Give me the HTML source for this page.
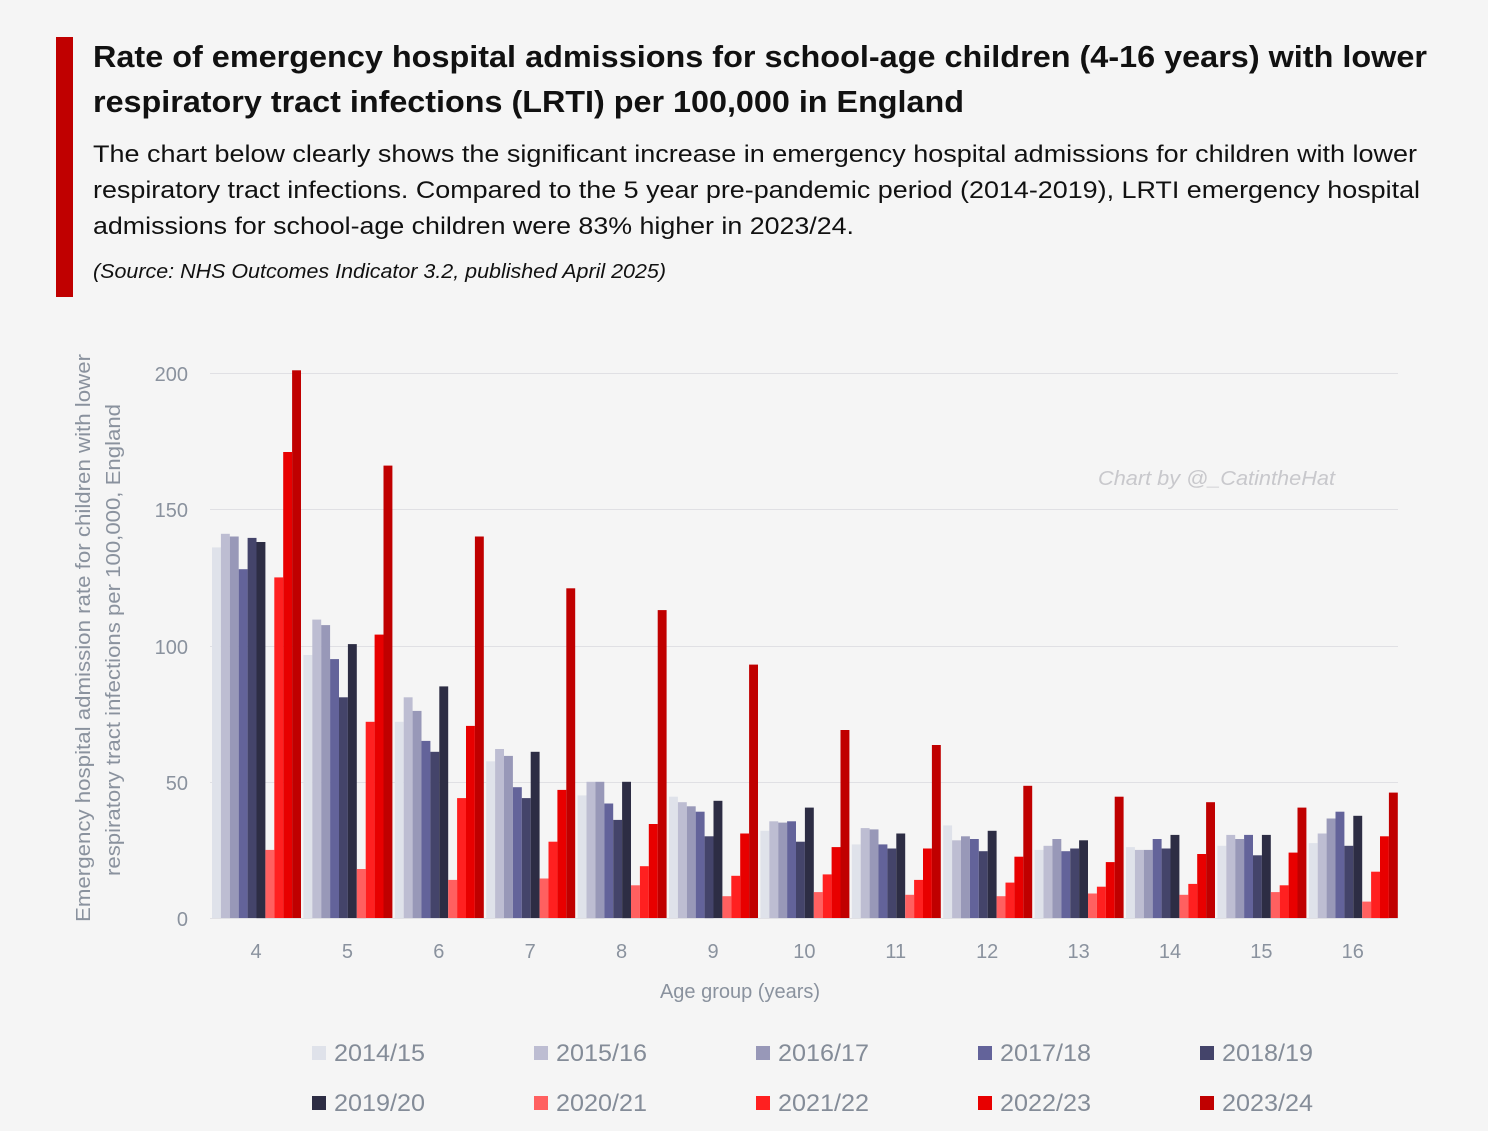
<!DOCTYPE html>
<html><head><meta charset="utf-8"><style>
html,body{margin:0;padding:0;background:#f5f5f5}
svg{display:block}
</style></head><body>
<svg id="s" width="1488" height="1131" xmlns="http://www.w3.org/2000/svg" font-family="Liberation Sans, sans-serif">
<rect width="1488" height="1131" fill="#f5f5f5"/>
<rect x="56" y="37" width="17" height="260" fill="#c00000"/>
<g font-weight="bold" font-size="31" fill="#111">
<text x="93" y="67" textLength="1334" lengthAdjust="spacingAndGlyphs">Rate of emergency hospital admissions for school-age children (4-16 years) with lower</text>
<text x="93" y="112" textLength="871" lengthAdjust="spacingAndGlyphs">respiratory tract infections (LRTI) per 100,000 in England</text>
</g>
<g font-size="24" fill="#111">
<text x="93" y="162" textLength="1324" lengthAdjust="spacingAndGlyphs">The chart below clearly shows the significant increase in emergency hospital admissions for children with lower</text>
<text x="93" y="198" textLength="1327" lengthAdjust="spacingAndGlyphs">respiratory tract infections. Compared to the 5 year pre-pandemic period (2014-2019), LRTI emergency hospital</text>
<text x="93" y="234" textLength="761" lengthAdjust="spacingAndGlyphs">admissions for school-age children were 83% higher in 2023/24.</text>
</g>
<text x="93" y="278" font-size="20" font-style="italic" fill="#111" textLength="573" lengthAdjust="spacingAndGlyphs">(Source: NHS Outcomes Indicator 3.2, published April 2025)</text>
<g stroke="#e0e0e4" stroke-width="1">
<line x1="210" y1="373.5" x2="1398" y2="373.5"/>
<line x1="210" y1="509.5" x2="1398" y2="509.5"/>
<line x1="210" y1="646.5" x2="1398" y2="646.5"/>
<line x1="210" y1="782.5" x2="1398" y2="782.5"/>
<line x1="210" y1="918.5" x2="1398" y2="918.5"/>
</g>
<g font-size="20" fill="#8a929e" text-anchor="end">
<text x="188" y="381">200</text><text x="188" y="517">150</text><text x="188" y="654">100</text><text x="188" y="790">50</text><text x="188" y="926">0</text>
</g>
<g font-size="20" fill="#8a929e" transform="rotate(-90)" text-anchor="middle">
<text x="-638" y="90" textLength="568" lengthAdjust="spacingAndGlyphs">Emergency hospital admission rate for children with lower</text>
<text x="-640" y="120" textLength="472" lengthAdjust="spacingAndGlyphs">respiratory tract infections per 100,000, England</text>
</g>
<text x="740" y="998" font-size="20" fill="#8a929e" text-anchor="middle">Age group (years)</text>
<text x="1098" y="485" font-size="20" font-style="italic" fill="#c8c8cc" textLength="237" lengthAdjust="spacingAndGlyphs">Chart by @_CatintheHat</text>
<g id="bars"></g>
<g id="xl" font-size="20" fill="#8a929e" text-anchor="middle"></g>
<g id="leg" font-size="24" fill="#848c98"></g>
</svg>
<script>
var C=["#dfe2ea","#bdbdd2","#9898b8","#63639a","#44446a","#2d2d44","#ff6060","#ff2020","#e80000","#c00000"];
var D=[[136,141,140,128,139.5,138,25,125,171,201],
[96.5,109.5,107.5,95,81,100.5,18,72,104,166],
[72,81,76,65,61,85,14,44,70.5,140],
[57.5,62,59.5,48,44,61,14.5,28,47,121],
[45,50,50,42,36,50,12,19,34.5,113],
[44.5,42.5,41,39,30,43,8,15.5,31,93],
[32,35.5,35,35.5,28,40.5,9.5,16,26,69],
[27,33,32.5,27,25.5,31,8.5,14,25.5,63.5],
[34,28.5,30,29,24.5,32,8,13,22.5,48.5],
[25,26.5,29,24.5,25.5,28.5,9,11.5,20.5,44.5],
[26,25,25,29,25.5,30.5,8.5,12.5,23.5,42.5],
[26.5,30.5,29,30.5,23,30.5,9.5,12,24,40.5],
[27.5,31,36.5,39,26.5,37.5,6,17,30,46]];
var ns="http://www.w3.org/2000/svg",b=document.getElementById("bars"),xl=document.getElementById("xl"),lg=document.getElementById("leg");
function el(t,a,p){var e=document.createElementNS(ns,t);for(var k in a)e.setAttribute(k,a[k]);p.appendChild(e);return e;}
for(var g=0;g<13;g++){var x0=212+g*91.4;
for(var i=0;i<10;i++){var v=D[g][i],h=v*2.725;el("rect",{x:(x0+i*8.9).toFixed(1),y:(918-h).toFixed(1),width:"8.9",height:h.toFixed(1),fill:C[i]},b);}
var t=el("text",{x:(256+g*91.4).toFixed(1),y:"958"},xl);t.textContent=g+4;}
var L=["2014/15","2015/16","2016/17","2017/18","2018/19","2019/20","2020/21","2021/22","2022/23","2023/24"];
for(var i=0;i<10;i++){var c=i%5,r=Math.floor(i/5),x=312+c*222,y=1046+r*50;
el("rect",{x:x,y:y,width:14,height:14,fill:C[i]},lg);var t=el("text",{x:x+22,y:y+15,textLength:91,lengthAdjust:"spacingAndGlyphs"},lg);t.textContent=L[i];}
</script>
</body></html>
